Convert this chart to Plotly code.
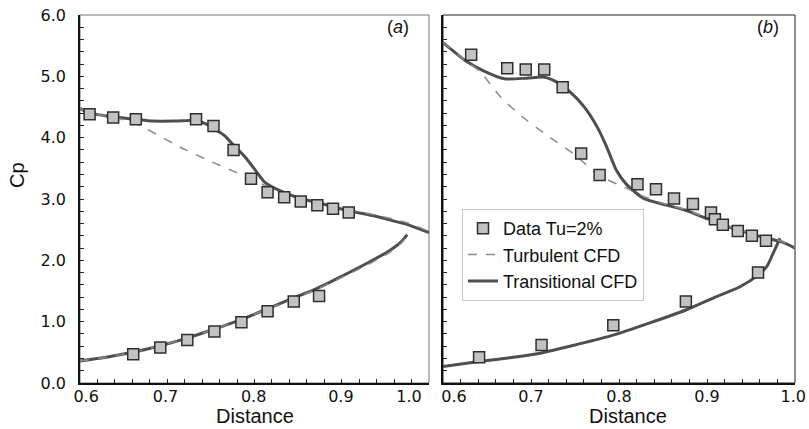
import plotly.graph_objects as go

# ---------------- data ----------------
# Panel (a)
a_data_up_x = [0.611, 0.638, 0.664, 0.733, 0.753, 0.776, 0.796, 0.815, 0.834, 0.853, 0.872, 0.890, 0.908]
a_data_up_y = [4.38, 4.33, 4.30, 4.30, 4.19, 3.80, 3.33, 3.11, 3.03, 2.96, 2.90, 2.84, 2.78]
a_data_lo_x = [0.661, 0.692, 0.723, 0.754, 0.785, 0.815, 0.845, 0.874]
a_data_lo_y = [0.47, 0.58, 0.70, 0.84, 0.99, 1.17, 1.33, 1.42]

a_trans_up_x = [0.600, 0.611, 0.638, 0.664, 0.683, 0.710, 0.733, 0.745, 0.753, 0.765, 0.774, 0.789, 0.801, 0.812, 0.824, 0.850, 0.875, 0.907, 0.935, 0.960, 0.978, 1.000]
a_trans_up_y = [4.48, 4.40, 4.34, 4.30, 4.27, 4.27, 4.28, 4.22, 4.15, 4.04, 3.91, 3.69, 3.47, 3.27, 3.17, 3.02, 2.93, 2.81, 2.73, 2.64, 2.57, 2.45]
a_turb_up_x = [0.600, 0.611, 0.638, 0.650, 0.664, 0.721, 0.760, 0.796, 0.815, 0.830, 0.850, 0.875, 0.907, 0.935, 0.960, 0.978, 1.000]
a_turb_up_y = [4.48, 4.40, 4.34, 4.29, 4.23, 3.80, 3.55, 3.33, 3.20, 3.11, 3.03, 2.94, 2.83, 2.75, 2.67, 2.60, 2.47]
a_trans_lo_x = [0.600, 0.630, 0.660, 0.690, 0.720, 0.750, 0.780, 0.810, 0.840, 0.870, 0.900, 0.930, 0.955, 0.968, 0.975]
a_trans_lo_y = [0.36, 0.42, 0.50, 0.60, 0.72, 0.86, 1.01, 1.18, 1.36, 1.53, 1.74, 1.96, 2.16, 2.30, 2.42]
a_turb_lo_x = [0.600, 0.630, 0.660, 0.690, 0.720, 0.750, 0.780, 0.810, 0.840, 0.870, 0.900, 0.930, 0.955, 0.968, 0.975]
a_turb_lo_y = [0.36, 0.42, 0.50, 0.60, 0.72, 0.86, 1.01, 1.18, 1.35, 1.52, 1.72, 1.93, 2.13, 2.28, 2.40]

# Panel (b)
b_data_up_x = [0.632, 0.673, 0.694, 0.715, 0.736, 0.757, 0.778, 0.821, 0.842, 0.8625, 0.884, 0.9045, 0.909, 0.918, 0.935, 0.951, 0.967]
b_data_up_y = [5.35, 5.13, 5.11, 5.11, 4.82, 3.74, 3.39, 3.24, 3.16, 3.01, 2.92, 2.78, 2.67, 2.58, 2.48, 2.40, 2.32]
b_data_lo_x = [0.641, 0.712, 0.7935, 0.876, 0.958]
b_data_lo_y = [0.42, 0.62, 0.94, 1.33, 1.80]

b_trans_up_x = [0.600, 0.627, 0.646, 0.670, 0.695, 0.714, 0.729, 0.744, 0.760, 0.775, 0.786, 0.797, 0.809, 0.828, 0.854, 0.875, 0.900, 0.930, 0.960, 0.985, 1.000]
b_trans_up_y = [5.55, 5.24, 5.09, 4.96, 4.97, 4.99, 4.91, 4.75, 4.51, 4.18, 3.85, 3.47, 3.23, 3.01, 2.90, 2.82, 2.68, 2.52, 2.39, 2.30, 2.20]
b_turb_up_x = [0.600, 0.627, 0.642, 0.665, 0.6875, 0.718, 0.748, 0.778, 0.8125, 0.830, 0.854, 0.875, 0.900, 0.930, 0.960, 0.985, 1.000]
b_turb_up_y = [5.55, 5.24, 5.08, 4.67, 4.37, 4.04, 3.74, 3.38, 3.15, 3.03, 2.91, 2.83, 2.69, 2.53, 2.40, 2.31, 2.21]
b_trans_lo_x = [0.600, 0.641, 0.680, 0.712, 0.750, 0.7935, 0.835, 0.876, 0.911, 0.9375, 0.958, 0.968, 0.975, 0.983]
b_trans_lo_y = [0.27, 0.35, 0.42, 0.49, 0.62, 0.78, 0.98, 1.19, 1.41, 1.57, 1.76, 1.90, 2.11, 2.36]

y_ticks = [0, 1, 2, 3, 4, 5, 6]
y_ticktext = ["0.0", "1.0", "2.0", "3.0", "4.0", "5.0", "6.0"]
x_ticks = [0.6, 0.7, 0.8, 0.9, 1.0]
x_ticktext = ["0.6", "0.7", "0.8", "0.9", "1.0"]
# where the tick labels sit (end labels are nudged inward, as in the original)
xa_label_pos = [0.607, 0.698, 0.799, 0.899, 0.977]
xb_label_pos = [0.6125, 0.700, 0.800, 0.900, 0.998]

# ---------------- styles ----------------
FONT = "Liberation Sans, Arial, sans-serif"
TICKFONT = "DejaVu Sans, sans-serif"
TRANS_COLOR = "#4e4e4e"
TURB_COLOR = "#8a8a8a"
MARK = dict(symbol="square", size=11, color="#c2c2c2", line=dict(color="#2e2e2e", width=1.5))

fig = go.Figure()

def add_panel(xa, ya, trans_up, turb_up, trans_lo, turb_lo, data_up, data_lo, legend):
    for i, (xs, ys) in enumerate([trans_up, trans_lo]):
        fig.add_trace(go.Scatter(x=xs, y=ys, mode="lines", xaxis=xa, yaxis=ya,
                                 line=dict(color=TRANS_COLOR, width=3, shape="spline", smoothing=0.6),
                                 name="Transitional CFD", legendrank=3,
                                 showlegend=legend and i == 0))
    for i, (xs, ys) in enumerate([turb_up, turb_lo]):
        if xs is None:
            continue
        fig.add_trace(go.Scatter(x=xs, y=ys, mode="lines", xaxis=xa, yaxis=ya,
                                 line=dict(color=TURB_COLOR, width=1.5, dash="dash", shape="spline", smoothing=0.6),
                                 name="Turbulent CFD", legendrank=2,
                                 showlegend=legend and i == 0))
    for i, (xs, ys) in enumerate([data_up, data_lo]):
        fig.add_trace(go.Scatter(x=xs, y=ys, mode="markers", xaxis=xa, yaxis=ya,
                                 marker=MARK, name="Data Tu=2%", legendrank=1,
                                 showlegend=legend and i == 0))

add_panel("x", "y",
          (a_trans_up_x, a_trans_up_y), (a_turb_up_x, a_turb_up_y),
          (a_trans_lo_x, a_trans_lo_y), (a_turb_lo_x, a_turb_lo_y),
          (a_data_up_x, a_data_up_y), (a_data_lo_x, a_data_lo_y), False)
add_panel("x2", "y2",
          (b_trans_up_x, b_trans_up_y), (b_turb_up_x, b_turb_up_y),
          (b_trans_lo_x, b_trans_lo_y), (None, None),
          (b_data_up_x, b_data_up_y), (b_data_lo_x, b_data_lo_y), True)

W, H = 809, 429
ML, MR, MT, MB = 80, 14, 15, 46
pw = W - ML - MR
dom_a = [0, (429 - ML) / pw]
dom_b = [(443 - ML) / pw, 1]

def xaxis(domain, anchor):
    return dict(domain=domain, anchor=anchor, range=[0.6, 1.0], tickvals=x_ticks,
                showticklabels=False, automargin=False,
                ticks="inside", ticklen=4, tickcolor="#222", tickwidth=1,
                minor=dict(dtick=0.02, tick0=0.6, ticks="inside", ticklen=4, tickcolor="#222"),
                showline=True, linecolor="#111", linewidth=1.5, showgrid=False, zeroline=False)

def xlabels(over, anchor, pos):
    return dict(overlaying=over, anchor=anchor, side="bottom", range=[0.6, 1.0],
                tickvals=pos, ticktext=x_ticktext, ticks="", showline=False,
                showgrid=False, zeroline=False, automargin=False,
                tickfont=dict(family=TICKFONT, size=16, color="#111"), ticklabelstandoff=2)

def yaxis(anchor, labels):
    return dict(domain=[0, 1], anchor=anchor, range=[0, 6], tickvals=y_ticks, ticktext=y_ticktext,
                showticklabels=labels, automargin=False,
                ticks="inside", ticklen=4, tickcolor="#222", tickwidth=1,
                minor=dict(dtick=0.2, tick0=0, ticks="inside", ticklen=4, tickcolor="#222"),
                showline=True, linecolor="#111", linewidth=1.5, showgrid=False, zeroline=False,
                tickfont=dict(family=TICKFONT, size=16, color="#111"), ticklabelstandoff=9)

fig.update_layout(
    width=W, height=H, margin=dict(l=ML, r=MR, t=MT, b=MB),
    paper_bgcolor="white", plot_bgcolor="white",
    font=dict(family=FONT, color="#111"),
    xaxis=xaxis(dom_a, "y"),
    yaxis=yaxis("x", True),
    xaxis2=xaxis(dom_b, "y2"),
    yaxis2=yaxis("x2", False),
    xaxis3=xlabels("x", "y", xa_label_pos),
    xaxis4=xlabels("x2", "y2", xb_label_pos),
    legend=dict(x=(462 - ML) / pw, y=(383 - 209) / 368, xanchor="left", yanchor="top",
                bgcolor="white", bordercolor="#c8c8c8", borderwidth=1,
                font=dict(family=FONT, size=18, color="#111"), tracegroupgap=0),
    showlegend=True,
)

# invisible anchor traces so the label axes are drawn
fig.add_trace(go.Scatter(x=[0.6], y=[0], xaxis="x3", yaxis="y", mode="markers",
                         marker=dict(opacity=0), showlegend=False, hoverinfo="skip"))
fig.add_trace(go.Scatter(x=[0.6], y=[0], xaxis="x4", yaxis="y2", mode="markers",
                         marker=dict(opacity=0), showlegend=False, hoverinfo="skip"))

for xr, yr, col in [("x domain", "y domain", "#777"), ("x2 domain", "y2 domain", "#222")]:
    fig.add_shape(type="rect", xref=xr, yref=yr, x0=0, x1=1, y0=0, y1=1,
                  line=dict(color=col, width=1), layer="below")

annos = [
    dict(text="Cp", xref="paper", yref="paper", x=(17 - ML) / pw, y=(383 - 175) / 368,
         textangle=-90, font=dict(size=20)),
    dict(text="Distance", xref="x", yref="paper", x=0.8, y=(383 - 416) / 368, font=dict(size=20)),
    dict(text="Distance", xref="x2", yref="paper", x=0.81, y=(383 - 416) / 368, font=dict(size=20)),
    dict(text="(<i>a</i>)", xref="x domain", yref="y domain", x=(398 - 80) / 349, y=(383 - 27) / 368,
         font=dict(size=18)),
    dict(text="(<i>b</i>)", xref="x2 domain", yref="y2 domain", x=(768 - 443) / 352, y=(383 - 27) / 368,
         font=dict(size=18)),
]
for a in annos:
    a.setdefault("showarrow", False)
    a.setdefault("xanchor", "center")
    a.setdefault("yanchor", "middle")
    a["font"]["family"] = FONT
    a["font"]["color"] = "#111"
    fig.add_annotation(**a)

fig.write_html("out.html")
